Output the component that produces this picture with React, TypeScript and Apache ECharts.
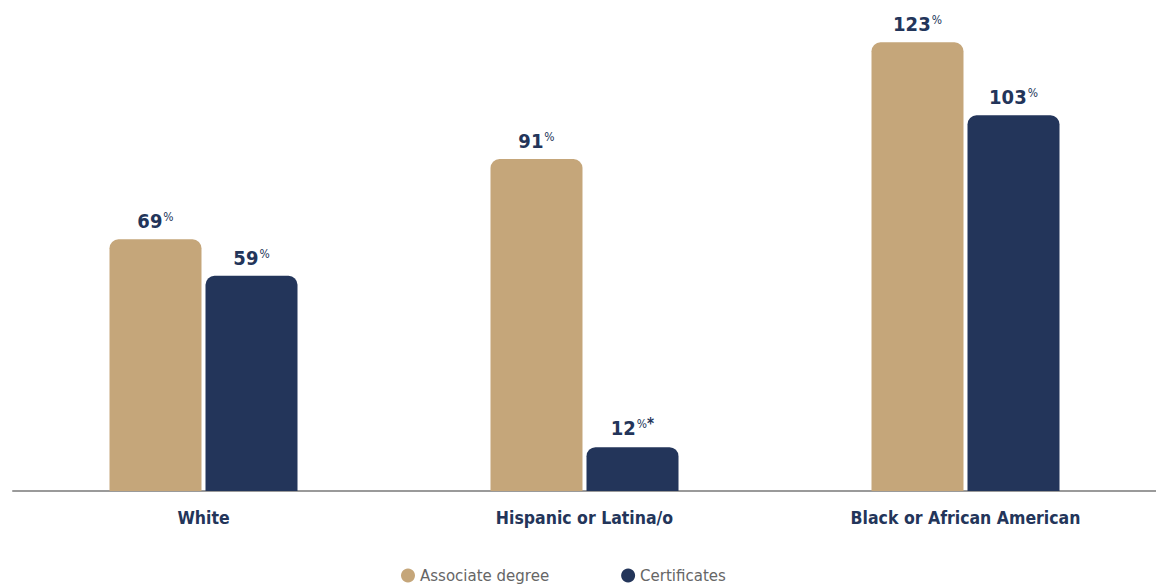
import React, { useEffect, useRef } from "react";
import * as echarts from "echarts";

const categories = ["White", "Hispanic or Latina/o", "Black or African American"];
const associateValues = [69, 91, 123];
const certificateValues = [59, 12, 103];
const certificateNotes = ["", "*", ""];
const seriesNames = ["Associate degree", "Certificates"];

const FONT = "'DejaVu Sans Condensed', 'DejaVu Sans', sans-serif";
const NAVY = "#23355a";
const TAN = "#c5a67a";

export default function App() {
  const ref = useRef<HTMLDivElement>(null);
  useEffect(() => {
    if (!ref.current) return;
    const chart = echarts.init(ref.current, undefined, { renderer: "svg" });
    const rich = {
      n: { fontFamily: FONT, fontWeight: "bold", fontSize: 20, color: NAVY },
      p: { fontFamily: FONT, fontSize: 12, color: NAVY, padding: [0, 0, 8, 1] },
      s: { fontFamily: FONT, fontWeight: "bold", fontSize: 15, color: NAVY, padding: [0, 0, 8, 0] },
    };
    chart.setOption({
      animation: false,
      textStyle: { fontFamily: FONT },
      grid: { left: 13, right: 0, top: 35, bottom: 97 },
      legend: {
        bottom: 0,
        left: 396,
        itemGap: 72,
        icon: "circle",
        itemWidth: 14,
        itemHeight: 14,
        textStyle: { fontFamily: "'DejaVu Sans', sans-serif", fontSize: 15, color: "#666" },
        data: seriesNames,
      },
      xAxis: {
        type: "category",
        data: categories,
        axisTick: { show: false },
        axisLine: { lineStyle: { color: "#9a9a9a", width: 2 } },
        axisLabel: {
          margin: 18,
          fontFamily: FONT,
          fontWeight: "bold",
          fontSize: 17.5,
          color: NAVY,
        },
      },
      yAxis: {
        type: "value",
        min: 0,
        max: 125,
        show: false,
        splitLine: { show: false },
      },
      series: [
        {
          name: seriesNames[0],
          type: "bar",
          data: associateValues,
          barWidth: 92,
          barGap: "4.35%",
          itemStyle: { color: TAN, borderRadius: [9, 9, 0, 0] },
          label: {
            show: true,
            position: "top",
            distance: 8,
            formatter: (p: any) => `{n|${p.value}}{p|%}`,
            rich,
          },
        },
        {
          name: seriesNames[1],
          type: "bar",
          data: certificateValues,
          barWidth: 92,
          itemStyle: { color: NAVY, borderRadius: [9, 9, 0, 0] },
          label: {
            show: true,
            position: "top",
            distance: 8,
            formatter: (p: any) =>
              `{n|${p.value}}{p|%}` + (certificateNotes[p.dataIndex] ? `{s|${certificateNotes[p.dataIndex]}}` : ""),
            rich,
          },
        },
      ],
    });
    return () => chart.dispose();
  }, []);
  return (
    <div
      ref={ref}
      style={{ position: "fixed", left: 0, top: 0, width: 1156, height: 588, background: "#fff" }}
    />
  );
}
